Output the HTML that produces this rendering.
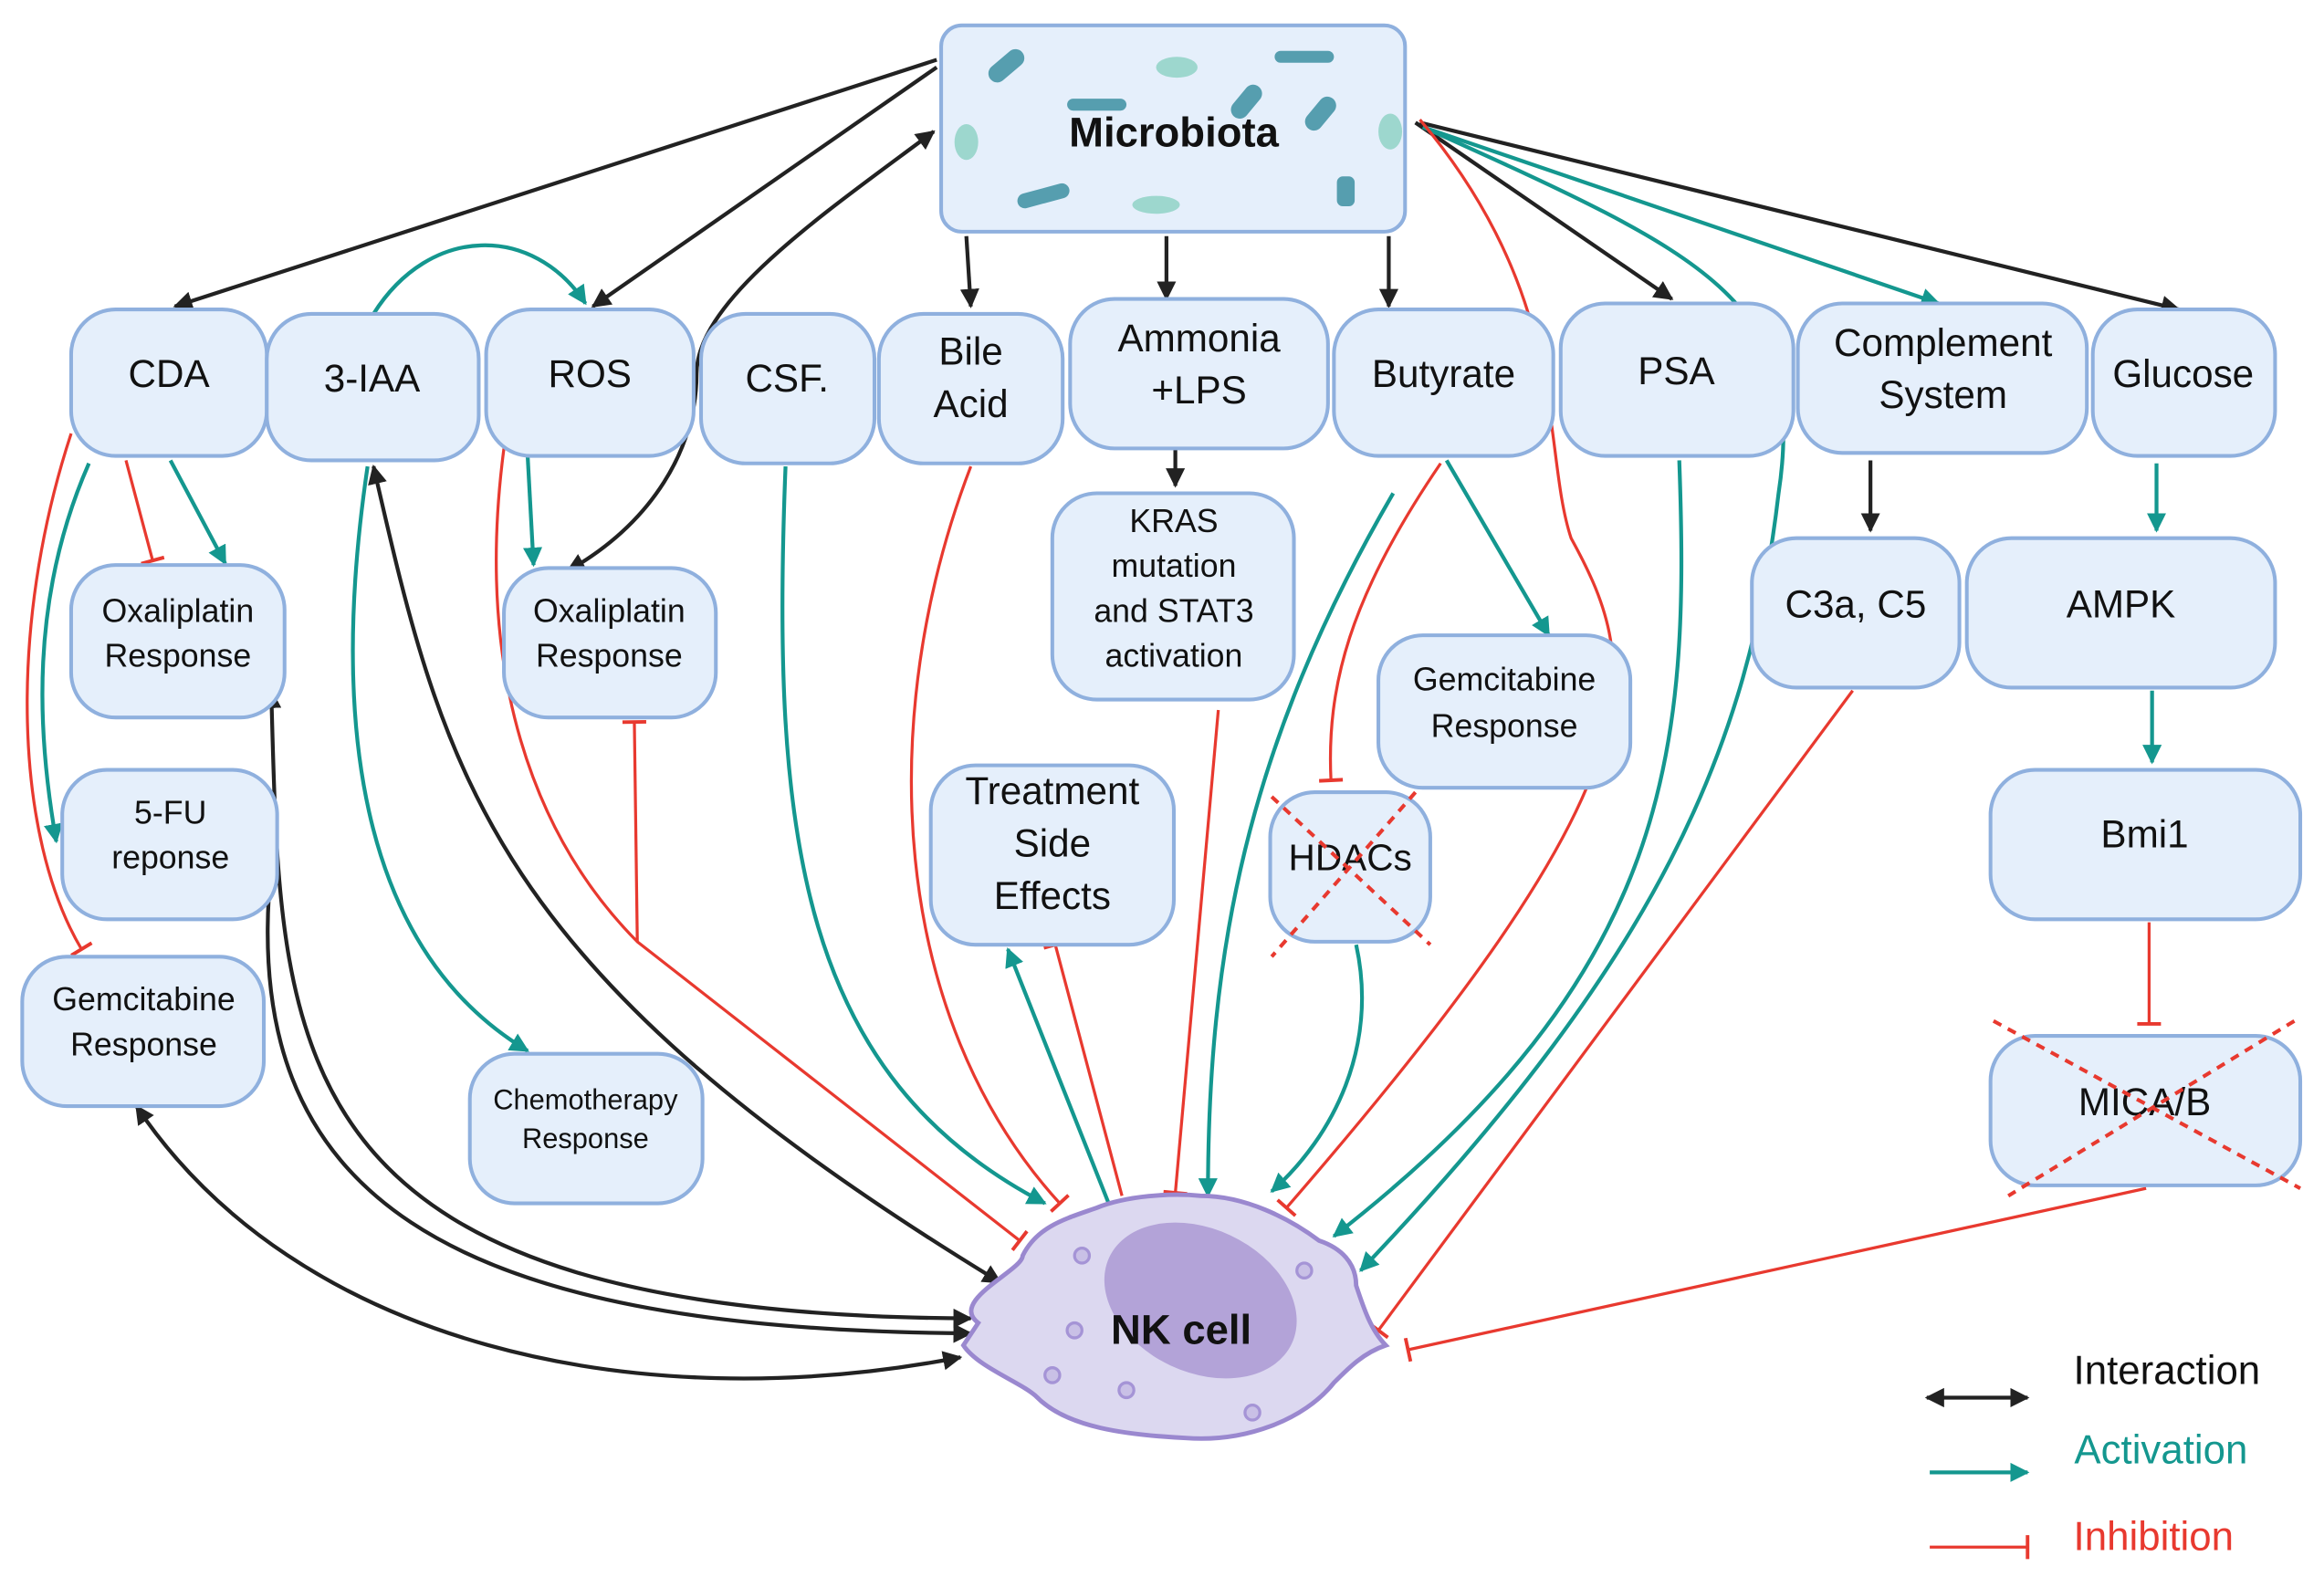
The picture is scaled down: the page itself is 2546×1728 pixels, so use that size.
<!DOCTYPE html>
<html><head><meta charset="utf-8"><style>
html,body{margin:0;padding:0;background:#fff;}
svg{display:block;}
text{font-family:"Liberation Sans",sans-serif;fill:#111;text-anchor:middle;transform:translateY(-6px);}
.b{fill:#e5effb;stroke:#8fb0de;stroke-width:2.5;}
.k{stroke:#222;stroke-width:2.6;fill:none;}
.t{stroke:#14978f;stroke-width:2.6;fill:none;}
.r{stroke:#e8392f;stroke-width:2;fill:none;}
</style></head><body>
<svg width="2546" height="1728" viewBox="0 0 1568 1055" preserveAspectRatio="none" xmlns="http://www.w3.org/2000/svg">
<defs>
<marker id="ak" viewBox="0 0 10 10" refX="9" refY="5" markerWidth="5" markerHeight="5" orient="auto-start-reverse"><path d="M0,0L10,5L0,10z" fill="#222"/></marker>
<marker id="at" viewBox="0 0 10 10" refX="9" refY="5" markerWidth="5" markerHeight="5" orient="auto"><path d="M0,0L10,5L0,10z" fill="#14978f"/></marker>
<marker id="ar" viewBox="0 0 20 20" refX="10" refY="10" markerWidth="20" markerHeight="20" orient="auto" markerUnits="userSpaceOnUse"><path d="M10,2V18" stroke="#e8392f" stroke-width="2.4"/></marker>
</defs>

<g class="k">
<path d="M632,40 L118,205" marker-end="url(#ak)"/>
<path d="M632,45 L400,205" marker-end="url(#ak)"/>
<path d="M630,88 C560,140 470,200 470,250 C470,300 440,350 383,382" marker-start="url(#ak)" marker-end="url(#ak)"/>
<path d="M652,158 L655,205" marker-end="url(#ak)"/>
<path d="M787,158 L787,200" marker-end="url(#ak)"/>
<path d="M937,158 L937,205" marker-end="url(#ak)"/>
<path d="M955,82 L1128,200" marker-end="url(#ak)"/>
<path d="M958,82 L1470,207" marker-end="url(#ak)"/>
<path d="M793,300 L793,325" marker-end="url(#ak)"/>
<path d="M1262,308 L1262,355" marker-end="url(#ak)"/>
<path d="M252,312 C300,520 330,650 675,858" marker-start="url(#ak)" marker-end="url(#ak)"/>
<path d="M183,462 C190,700 180,880 655,882" marker-start="url(#ak)" marker-end="url(#ak)"/>
<path d="M183,580 C160,800 300,890 655,892" marker-start="url(#ak)" marker-end="url(#ak)"/>
<path d="M92,740 C200,900 430,950 648,908" marker-start="url(#ak)" marker-end="url(#ak)"/>
<path d="M1300,935 L1368,935" marker-start="url(#ak)" marker-end="url(#ak)"/>
</g>
<g class="t">
<path d="M252,210 C290,150 360,150 395,203" marker-end="url(#at)"/>
<path d="M115,308 L152,377" marker-end="url(#at)"/>
<path d="M60,310 C20,400 25,490 38,563" marker-end="url(#at)"/>
<path d="M356,305 L360,378" marker-end="url(#at)"/>
<path d="M248,312 C220,500 250,640 356,703" marker-end="url(#at)"/>
<path d="M530,312 C520,560 540,720 705,805" marker-end="url(#at)"/>
<path d="M748,805 L680,635" marker-end="url(#at)"/>
<path d="M940,330 C840,500 815,640 815,800" marker-end="url(#at)"/>
<path d="M976,308 L1045,425" marker-end="url(#at)"/>
<path d="M915,632 C930,700 900,760 858,797" marker-end="url(#at)"/>
<path d="M1133,308 C1140,500 1130,650 900,827" marker-end="url(#at)"/>
<path d="M960,85 C1150,170 1220,200 1200,330 C1180,500 1120,640 918,850" marker-end="url(#at)"/>
<path d="M960,85 L1308,203" marker-end="url(#at)"/>
<path d="M1455,310 L1455,355" marker-end="url(#at)"/>
<path d="M1452,462 L1452,510" marker-end="url(#at)"/>
<path d="M1302,985 L1368,985" marker-end="url(#at)"/>
</g>
<g class="r">
<path d="M85,308 L103,375" marker-end="url(#ar)"/>
<path d="M48,290 C5,420 10,560 55,635" marker-end="url(#ar)"/>
<path d="M340,300 C320,450 360,560 430,630 L688,830" marker-end="url(#ar)"/>
<path d="M430,630 L428,483" marker-end="url(#ar)"/>
<path d="M655,312 C590,480 600,680 715,805" marker-end="url(#ar)"/>
<path d="M757,800 L712,632" marker-end="url(#ar)"/>
<path d="M822,475 L793,798" marker-end="url(#ar)"/>
<path d="M972,310 C910,400 895,460 898,522" marker-end="url(#ar)"/>
<path d="M958,80 C1060,200 1040,300 1060,360 C1110,450 1120,520 868,808" marker-end="url(#ar)"/>
<path d="M1250,462 L930,890" marker-end="url(#ar)"/>
<path d="M1448,795 L950,903" marker-end="url(#ar)"/>
<path d="M1450,617 L1450,685" marker-end="url(#ar)"/>
<path d="M1302,1035 L1368,1035" marker-end="url(#ar)"/>
</g>

<rect class="b" x="635" y="17" width="313" height="138" rx="14"/>
<g fill="#1a7c8f" opacity="0.7">
<rect x="665" y="38" width="28" height="12" rx="6" transform="rotate(-40 679 44)"/>
<rect x="720" y="66" width="40" height="8" rx="4"/>
<rect x="860" y="34" width="40" height="8" rx="4"/>
<rect x="828" y="62" width="26" height="12" rx="6" transform="rotate(-50 841 68)"/>
<rect x="878" y="70" width="26" height="12" rx="6" transform="rotate(-50 891 76)"/>
<rect x="686" y="126" width="36" height="10" rx="5" transform="rotate(-15 704 131)"/>
<rect x="902" y="118" width="12" height="20" rx="4"/>
</g>
<g fill="#7fcdbb" opacity="0.7"><ellipse cx="794" cy="45" rx="14" ry="7"/><ellipse cx="780" cy="137" rx="16" ry="6"/><ellipse cx="652" cy="95" rx="8" ry="12"/><ellipse cx="938" cy="88" rx="8" ry="12"/></g>
<text x="792" y="104" font-size="28" font-weight="bold">Microbiota</text>

<rect class="b" x="48" y="207" width="132" height="98" rx="30"/><text x="114" y="265" font-size="26">CDA</text>
<rect class="b" x="180" y="210" width="143" height="98" rx="30"/><text x="251" y="268" font-size="26">3-IAA</text>
<rect class="b" x="328" y="207" width="140" height="98" rx="30"/><text x="398" y="265" font-size="26">ROS</text>
<rect class="b" x="473" y="210" width="117" height="100" rx="30"/><text x="531" y="268" font-size="26">CSF.</text>
<rect class="b" x="593" y="210" width="124" height="100" rx="30"/><text x="655" y="250" font-size="26">Bile</text><text x="655" y="285" font-size="26">Acid</text>
<rect class="b" x="722" y="200" width="174" height="100" rx="30"/><text x="809" y="241" font-size="26">Ammonia</text><text x="809" y="276" font-size="26">+LPS</text>
<rect class="b" x="900" y="207" width="148" height="98" rx="30"/><text x="974" y="265" font-size="26">Butyrate</text>
<rect class="b" x="1053" y="203" width="157" height="102" rx="30"/><text x="1131" y="263" font-size="26">PSA</text>
<rect class="b" x="1213" y="203" width="195" height="100" rx="30"/><text x="1311" y="244" font-size="26">Complement</text><text x="1311" y="279" font-size="26">System</text>
<rect class="b" x="1412" y="207" width="123" height="98" rx="30"/><text x="1473" y="265" font-size="26">Glucose</text>

<rect class="b" x="48" y="378" width="144" height="102" rx="30"/><text x="120" y="422" font-size="22">Oxaliplatin</text><text x="120" y="452" font-size="22">Response</text>
<rect class="b" x="340" y="380" width="143" height="100" rx="30"/><text x="411" y="422" font-size="22">Oxaliplatin</text><text x="411" y="452" font-size="22">Response</text>
<rect class="b" x="42" y="515" width="145" height="100" rx="30"/><text x="115" y="557" font-size="22">5-FU</text><text x="115" y="587" font-size="22">reponse</text>
<rect class="b" x="15" y="640" width="163" height="100" rx="30"/><text x="97" y="682" font-size="22">Gemcitabine</text><text x="97" y="712" font-size="22">Response</text>
<rect class="b" x="317" y="705" width="157" height="100" rx="30"/><text x="395" y="748" font-size="19">Chemotherapy</text><text x="395" y="774" font-size="19">Response</text>
<rect class="b" x="710" y="330" width="163" height="138" rx="30"/><text x="792" y="362" font-size="22">KRAS</text><text x="792" y="392" font-size="22">mutation</text><text x="792" y="422" font-size="22">and STAT3</text><text x="792" y="452" font-size="22">activation</text>
<rect class="b" x="930" y="425" width="170" height="102" rx="30"/><text x="1015" y="468" font-size="22">Gemcitabine</text><text x="1015" y="499" font-size="22">Response</text>
<rect class="b" x="628" y="512" width="164" height="120" rx="30"/><text x="710" y="544" font-size="26">Treatment</text><text x="710" y="579" font-size="26">Side</text><text x="710" y="614" font-size="26">Effects</text>
<rect class="b" x="857" y="530" width="108" height="100" rx="30"/><text x="911" y="588" font-size="25">HDACs</text>
<rect class="b" x="1182" y="360" width="140" height="100" rx="30"/><text x="1252" y="419" font-size="26">C3a, C5</text>
<rect class="b" x="1327" y="360" width="208" height="100" rx="30"/><text x="1431" y="419" font-size="26">AMPK</text>
<rect class="b" x="1343" y="515" width="209" height="100" rx="30"/><text x="1447" y="573" font-size="26">Bmi1</text>
<rect class="b" x="1343" y="693" width="209" height="100" rx="30"/><text x="1447" y="752" font-size="26">MICA/B</text>
<g stroke="#e8392f" stroke-width="2.5" stroke-dasharray="6,5"><path d="M858,533L965,632M955,530L858,640"/><path d="M1345,683L1552,795M1548,683L1355,800"/></g>

<g>
<path d="M660,885 C640,870 690,850 690,840 C700,820 720,815 740,808 C760,800 790,798 810,800 C840,800 870,815 890,830 C905,835 915,845 915,860 C920,875 925,890 935,900 C920,905 910,915 900,925 C880,950 840,965 800,962 C760,960 720,955 700,935 C690,925 660,915 650,900 Z" fill="#dcd8f0" stroke="#9a88cf" stroke-width="3"/>
<ellipse cx="810" cy="870" rx="68" ry="48" transform="rotate(25 810 870)" fill="#b3a3d8"/>
<g fill="#c9c0e6" stroke="#a594d6" stroke-width="2"><circle cx="730" cy="840" r="5"/><circle cx="725" cy="890" r="5"/><circle cx="760" cy="930" r="5"/><circle cx="845" cy="945" r="5"/><circle cx="880" cy="850" r="5"/><circle cx="710" cy="920" r="5"/></g>
</g>
<text x="797" y="905" font-size="28" font-weight="bold">NK cell</text>

<text x="1462" y="932" font-size="27">Interaction</text>
<text x="1458" y="985" font-size="27" style="fill:#14978f">Activation</text>
<text x="1453" y="1043" font-size="27" style="fill:#e8392f">Inhibition</text>
</svg>
</body></html>
